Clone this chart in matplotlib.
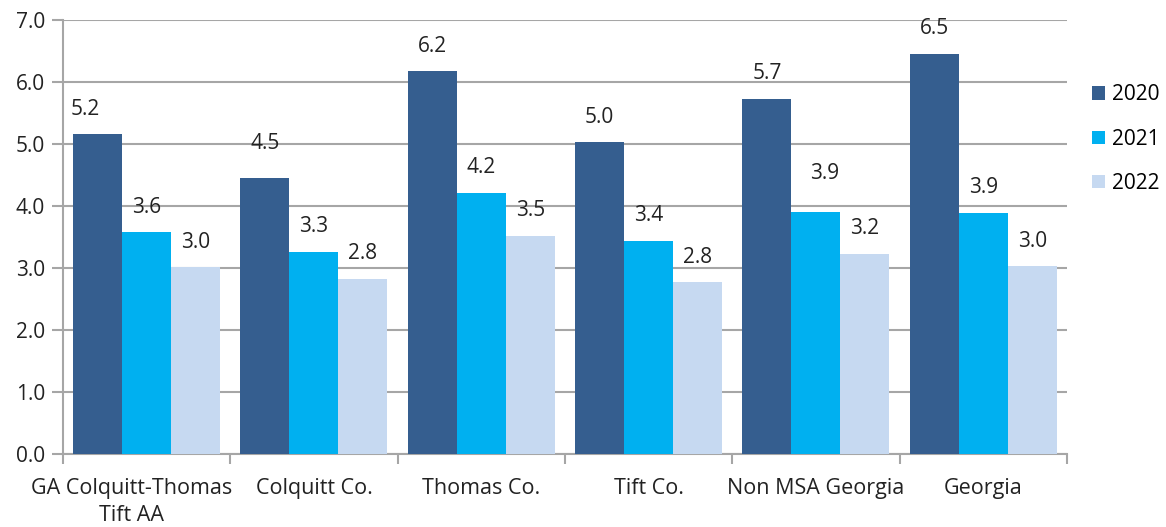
import numpy as np
import matplotlib.pyplot as plt
from matplotlib.transforms import ScaledTranslation

categories = ["GA Colquitt-Thomas\nTift AA", "Colquitt Co.", "Thomas Co.",
              "Tift Co.", "Non MSA Georgia", "Georgia"]
years = ["2020", "2021", "2022"]
v2020 = [5.16, 4.46, 6.17, 5.03, 5.73, 6.46]
v2021 = [3.58, 3.26, 4.21, 3.44, 3.91, 3.89]
v2022 = [3.01, 2.83, 3.52, 2.77, 3.23, 3.03]

colors = ["#355e8f", "#00b0f0", "#c6d9f1"]
# per-label nudges (px) where the original labels sit a bit off
nudge_y = [[0, 9, 0, 0, 0, 0], [0, 0, 0, 0, 13, 0], [0, 0, 0, 0, 0, 0]]
nudge_x = [[-12, 0, 0, 0, 0, 0], [0, 0, 0, 0, 9, 0], [0, 0, 0, 0, 0, 0]]

plt.rcParams['font.family'] = ['Open Sans', 'DejaVu Sans']

fig = plt.figure(figsize=(11.66, 5.27), dpi=100)
ax = fig.add_axes([0.054, 0.1385, 0.861, 0.8235])

x = np.arange(len(categories))
w = 0.293
series = [v2020, v2021, v2022]
for k, vals in enumerate(series):
    pos = x + (k - 1) * w
    ax.bar(pos, vals, width=w, color=colors[k], label=years[k], zorder=3)
    for j, v in enumerate(vals):
        ax.annotate("%.1f" % v, (pos[j], v), xytext=(nudge_x[k][j], 25 + nudge_y[k][j]),
                    textcoords='offset pixels', ha='center', va='center',
                    fontsize=15, color='#222222', zorder=4)

ax.set_xlim(-0.5, len(categories) - 0.5)
ax.set_ylim(0, 7)
ax.set_yticks(np.arange(0, 7.01, 1.0))
ax.set_yticklabels(["%.1f" % t for t in np.arange(0, 7.01, 1.0)], fontsize=15, color='#222222')
ax.grid(axis='y', color='#a6a6a6', linewidth=1.5, zorder=0)

ax.set_xticks(x)
ax.set_xticklabels(categories, fontsize=15.5, color='#222222', linespacing=1.4)
ax.set_xticks(np.arange(-0.5, len(categories)), minor=True)
ax.tick_params(axis='x', which='major', length=0, pad=17)
ax.tick_params(axis='x', which='minor', length=7, color='#a6a6a6', width=1.5)
ax.tick_params(axis='y', length=8, color='#a6a6a6', width=1.5, pad=5)

# first category label sits a little left of its group
lab0 = ax.get_xticklabels()[0]
lab0.set_transform(lab0.get_transform() + ScaledTranslation(-0.15, 0, fig.dpi_scale_trans))

for s in ['top', 'right']:
    ax.spines[s].set_visible(False)
for s in ['left', 'bottom']:
    ax.spines[s].set_color('#a6a6a6')
    ax.spines[s].set_linewidth(1.5)

ax.legend(loc='upper left', bbox_to_anchor=(1.006, 0.895), frameon=False,
          fontsize=15, handlelength=0.62, handleheight=0.62, labelspacing=1.12,
          handletextpad=0.35)

fig.savefig("out.png", dpi=100)
